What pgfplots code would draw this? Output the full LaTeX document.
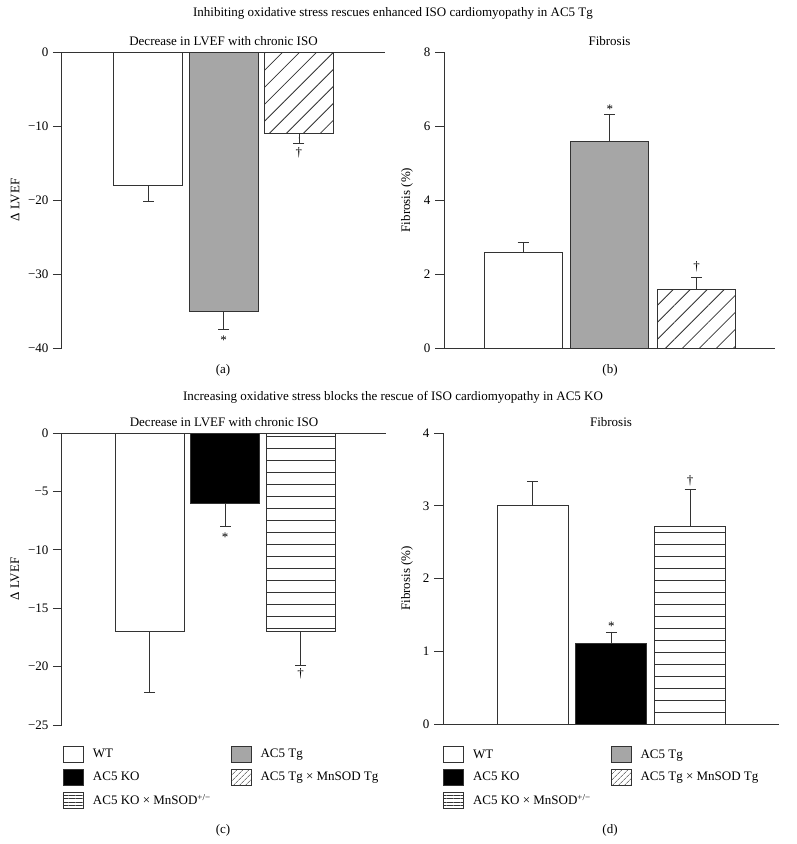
\documentclass[border=0pt]{standalone}
\usepackage{fontspec}
\setmainfont{Liberation Serif}
\usepackage{pgfplots}
\pgfplotsset{compat=1.18}
\usetikzlibrary{patterns.meta}
\definecolor{edge}{HTML}{333333}
\definecolor{tgfill}{HTML}{A6A6A6}
\tikzset{starnode/.style={anchor=center, yshift=-3pt}}
\pgfplotsset{
  panel/.style={
    scale only axis, anchor=south west, clip=false,
    axis y line*=left,
    axis line style={-, draw=edge, line width=1pt},
    tick style={draw=edge, line width=1pt},
    tick align=outside, major tick length=9pt,
    xtick=\empty, ytick pos=left,
    title style={yshift=-4pt},
    ylabel style={anchor=center},
    error bars/error bar style={draw=edge, line width=0.9pt},
    error bars/error mark options={rotate=90, draw=edge, line width=0.9pt, mark size=5.5pt},
    /pgf/number format/assume math mode=true,
  },
  mybar/.style={ybar, bar shift=0pt, draw=edge, line width=1pt, forget plot, error bars/y explicit},
  mylegend/.style={
    legend columns=2, legend cell align=left,
    legend style={anchor=north west, draw=none, fill=none, inner sep=0pt, row sep=6pt,
      nodes={inner sep=0pt},
      /tikz/every odd column/.append style={column sep=9pt},
      /tikz/every even column/.append style={column sep=20pt}},
    legend image code/.code={\draw[draw=edge,line width=0.8pt,##1] (0pt,-8pt) rectangle (20pt,8pt);},
  },
}
\begin{document}
\fontsize{13}{15.6}\selectfont
\begin{tikzpicture}[font=\fontsize{13}{15.6}\selectfont]
\useasboundingbox (0pt,0pt) rectangle (797pt,-844pt);
\node at (393pt,-13pt) {Inhibiting oxidative stress rescues enhanced ISO cardiomyopathy in AC5 Tg};
\node at (393pt,-397pt) {Increasing oxidative stress blocks the rescue of ISO cardiomyopathy in AC5 KO};
\node at (223pt,-370pt) {(a)};
\node at (610pt,-370pt) {(b)};
\node at (223pt,-830pt) {(c)};
\node at (610pt,-830pt) {(d)};

% (a)
\begin{axis}[panel, at={(62pt,-348pt)}, width=323pt, height=296pt,
  axis x line*=top, xmin=-0.149, xmax=4.143, ymin=-40, ymax=0,
  ytick={-40,-30,-20,-10,0}, yticklabels={−40,−30,−20,−10,0},
  title={Decrease in LVEF with chronic ISO},
  ylabel={Δ LVEF}, ylabel style={at={(axis description cs:-0.145,0.5)}},
  error bars/y dir=minus]
\addplot[mybar, bar width=69pt, fill=white] coordinates {(1,-18) +- (0,2.2)};
\addplot[mybar, bar width=69pt, fill=tgfill] coordinates {(2,-35) +- (0,2.5)};
\addplot[mybar, bar width=69pt, pattern={Lines[angle=45,distance=12pt,line width=0.8pt]}, pattern color=edge] coordinates {(3,-11) +- (0,1.4)};
\node[starnode] at (axis cs:2,-38.5) {*};
\node at (axis cs:3,-13.6) {†};
\end{axis}

% (b)
\begin{axis}[panel, at={(444pt,-348pt)}, width=331pt, height=296pt,
  axis x line*=bottom, xmin=0.089, xmax=3.905, ymin=0, ymax=8,
  ytick={0,2,4,6,8},
  title={Fibrosis},
  ylabel={Fibrosis (\%)}, ylabel style={at={(axis description cs:-0.112,0.5)}},
  error bars/y dir=plus]
\addplot[mybar, bar width=78pt, fill=white] coordinates {(1,2.57) +- (0,0.29)};
\addplot[mybar, bar width=78pt, fill=tgfill] coordinates {(2,5.57) +- (0,0.75)};
\addplot[mybar, bar width=78pt, pattern={Lines[angle=45,distance=12pt,line width=0.8pt]}, pattern color=edge] coordinates {(3,1.59) +- (0,0.33)};
\node[starnode] at (axis cs:2,6.54) {*};
\node at (axis cs:3,2.19) {†};
\end{axis}

% (c)
\begin{axis}[panel, mylegend, at={(62pt,-725pt)}, width=324pt, height=292pt,
  axis x line*=top, xmin=-0.159, xmax=4.132, ymin=-25, ymax=0,
  ytick={-25,-20,-15,-10,-5,0}, yticklabels={−25,−20,−15,−10,−5,0},
  title={Decrease in LVEF with chronic ISO},
  ylabel={Δ LVEF}, ylabel style={at={(axis description cs:-0.145,0.5)}},
  legend style={at={(axis description cs:0.003,-0.072)}},
  error bars/y dir=minus]
\addplot[mybar, bar width=69pt, fill=white] coordinates {(1,-17) +- (0,5.2)};
\addplot[mybar, bar width=69pt, fill=black] coordinates {(2,-6) +- (0,2.0)};
\addplot[mybar, bar width=69pt, pattern={Lines[angle=0,distance=12pt,line width=0.8pt]}, pattern color=edge] coordinates {(3,-17) +- (0,2.9)};
\node[starnode] at (axis cs:2,-8.7) {*};
\node at (axis cs:3,-20.6) {†};
\addlegendimage{fill=white}\addlegendentry{WT}
\addlegendimage{fill=tgfill}\addlegendentry{AC5 Tg}
\addlegendimage{fill=black}\addlegendentry{AC5 KO}
\addlegendimage{pattern={Lines[angle=45,distance=4pt,line width=0.6pt]}, pattern color=edge}\addlegendentry{AC5 Tg × MnSOD Tg}
\addlegendimage{pattern={Lines[angle=0,distance=3.5pt,line width=0.6pt]}, pattern color=edge}\addlegendentry{AC5 KO × MnSOD\textsuperscript{+/−}}
\end{axis}

% (d)
\begin{axis}[panel, mylegend, at={(443pt,-724pt)}, width=336pt, height=291pt,
  axis x line*=bottom, xmin=-0.137, xmax=4.13, ymin=0, ymax=4,
  ytick={0,1,2,3,4},
  title={Fibrosis},
  ylabel={Fibrosis (\%)}, ylabel style={at={(axis description cs:-0.107,0.5)}},
  legend style={at={(axis description cs:0,-0.076)}},
  error bars/y dir=plus]
\addplot[mybar, bar width=71pt, fill=white] coordinates {(1,3.0) +- (0,0.33)};
\addplot[mybar, bar width=71pt, fill=black] coordinates {(2,1.10) +- (0,0.165)};
\addplot[mybar, bar width=71pt, pattern={Lines[angle=0,distance=12pt,line width=0.8pt]}, pattern color=edge] coordinates {(3,2.71) +- (0,0.52)};
\node[starnode] at (axis cs:2,1.39) {*};
\node at (axis cs:3,3.35) {†};
\addlegendimage{fill=white}\addlegendentry{WT}
\addlegendimage{fill=tgfill}\addlegendentry{AC5 Tg}
\addlegendimage{fill=black}\addlegendentry{AC5 KO}
\addlegendimage{pattern={Lines[angle=45,distance=4pt,line width=0.6pt]}, pattern color=edge}\addlegendentry{AC5 Tg × MnSOD Tg}
\addlegendimage{pattern={Lines[angle=0,distance=3.5pt,line width=0.6pt]}, pattern color=edge}\addlegendentry{AC5 KO × MnSOD\textsuperscript{+/−}}
\end{axis}
\end{tikzpicture}
\end{document}
